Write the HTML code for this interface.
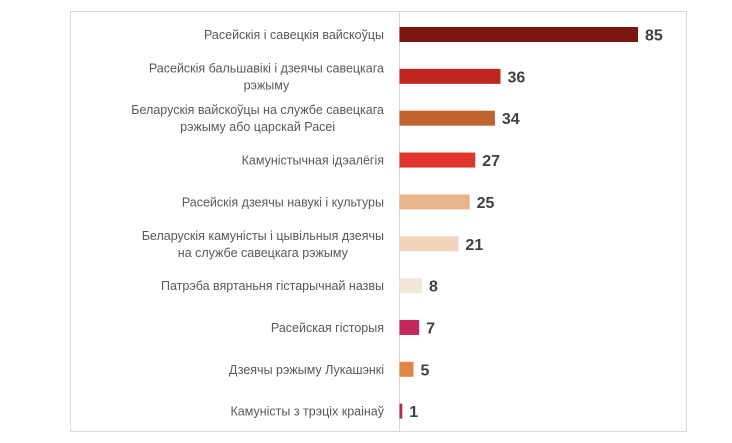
<!DOCTYPE html>
<html><head><meta charset="utf-8"><style>
body{margin:0;background:#fff;width:732px;height:443px;overflow:hidden;font-family:"Liberation Sans",sans-serif}
#frame{position:absolute;left:70px;top:11px;width:617px;height:421px;border:1px solid #d9d9d9;box-sizing:border-box}
</style></head><body>
<div id="frame"></div>
<svg id="chart" width="732" height="443" style="position:absolute;left:0;top:0"></svg>
<script>
const categories=[["Расейскія і савецкія вайскоўцы"],["Расейскія бальшавікі і дзеячы савецкага","рэжыму"],["Беларускія вайскоўцы на службе савецкага","рэжыму або царскай Расеі"],["Камуністычная ідэалёгія"],["Расейскія дзеячы навукі і культуры"],["Беларускія камуністы і цывільныя дзеячы","на службе савецкага рэжыму"],["Патрэба вяртаньня гістарычнай назвы"],["Расейская гісторыя"],["Дзеячы рэжыму Лукашэнкі"],["Камуністы з трэціх краінаў"]];
const values=[85,36,34,27,25,21,8,7,5,1];
const colors=["#7a1510","#c0281f","#c0622d","#e0352b","#e9b48a","#f2d3bb","#f2e6d8","#c2285a","#e08748","#b03040"];
const NS="http://www.w3.org/2000/svg",svg=document.getElementById("chart");
const x0=399.5,pxPer=(638-399.5)/85;
const xs=v=>x0+v*pxPer;
const ys=i=>34.5+i*41.85;
function mk(t,a){const e=document.createElementNS(NS,t);for(const k in a)e.setAttribute(k,a[k]);svg.appendChild(e);return e;}
const ax=mk("line",{x1:x0,x2:x0,y1:12,y2:431,stroke:"#d9d9d9","stroke-width":1});


values.forEach((v,i)=>{
 const cy=ys(i);
 const r=mk("rect",{x:x0,y:cy-7.5,width:xs(v)-x0,height:15,fill:colors[i]});
 
 
 const t=mk("text",{x:xs(v)+7,y:cy+6,"font-size":16,"font-weight":"bold",fill:"#404040"});
 t.textContent=v;
 
 
 const lines=categories[i];
 const g=mk("text",{"font-size":12.5,fill:"#595959","text-anchor":"middle"});
 
 
 g.textContent=lines.join(" ");
 if(lines.length==1){g.setAttribute("x",384);g.setAttribute("y",cy+4.5);g.setAttribute("text-anchor","end");}
 else{g.textContent="";
  const w=Math.max(...lines.map(l=>l.length));
  const tmp=mk("text",{"font-size":12.5});tmp.textContent=lines[0].length>=lines[1].length?lines[0]:lines[1];
  const width=tmp.getComputedTextLength();svg.removeChild(tmp);
  const cx=384-width/2;
  lines.forEach((l,j)=>{const s=document.createElementNS(NS,"tspan");s.setAttribute("x",cx);s.setAttribute("y",cy-4+j*17);s.textContent=l;g.appendChild(s);});
 }
});
</script>
</body></html>
